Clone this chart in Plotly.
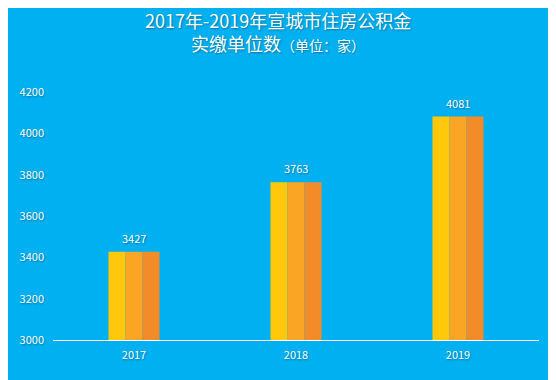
import plotly.graph_objects as go

years = ["2017", "2018", "2019"]
units = [3427, 3763, 4081]
y_ticks = [3000, 3200, 3400, 3600, 3800, 4000, 4200]

title_line1 = "2017年-2019年宣城市住房公积金"
title_line2 = "实缴单位数"
title_unit = "（单位：家）"

bg = "#00B0F0"
stripe_colors = ["#FFC80A", "#FBA525", "#F28C28"]
font_family = "Noto Sans CJK SC, Open Sans, sans-serif"
shadow = "1px 1px 2px rgba(0,0,0,0.35)"

fig = go.Figure()
for c in stripe_colors:
    fig.add_trace(go.Bar(x=years, y=units, marker=dict(color=c, line=dict(width=0)),
                         hoverinfo="skip", showlegend=False))

# on a category axis, annotation x is the category's serial number
for i, v in enumerate(units):
    fig.add_annotation(x=i, y=v, xref="x", yref="y", text=str(v), showarrow=False,
                       yshift=14, font=dict(size=11, color="white", family=font_family, shadow=shadow))

title_x = (278 - 53) / 486
fig.add_annotation(xref="paper", yref="paper", x=title_x, y=1, yshift=61, xanchor="center", yanchor="middle",
                   text=title_line1 + "<br>" + title_line2 + "<span style='font-size:14px'>" + title_unit + "</span>",
                   showarrow=False, align="center",
                   font=dict(size=18, color="white", family=font_family, shadow=shadow))

fig.update_layout(
    width=556, height=380,
    margin=dict(l=45, r=25, t=84, b=48),
    paper_bgcolor=bg, plot_bgcolor=bg,
    barmode="group", bargap=0.685, bargroupgap=0,
    font=dict(family=font_family, color="white", size=11),
    xaxis=dict(type="category", showline=True, linecolor="white", linewidth=1, showgrid=False, ticks="",
               ticklabelstandoff=5,
               tickfont=dict(size=11, color="white", shadow=shadow), fixedrange=True),
    yaxis=dict(range=[3000, 4200], tickvals=y_ticks, showgrid=False, zeroline=False, showline=False,
               ticks="", ticklabelstandoff=8,
               tickfont=dict(size=11, color="white", shadow=shadow), fixedrange=True),
)

fig.write_html("out.html")
